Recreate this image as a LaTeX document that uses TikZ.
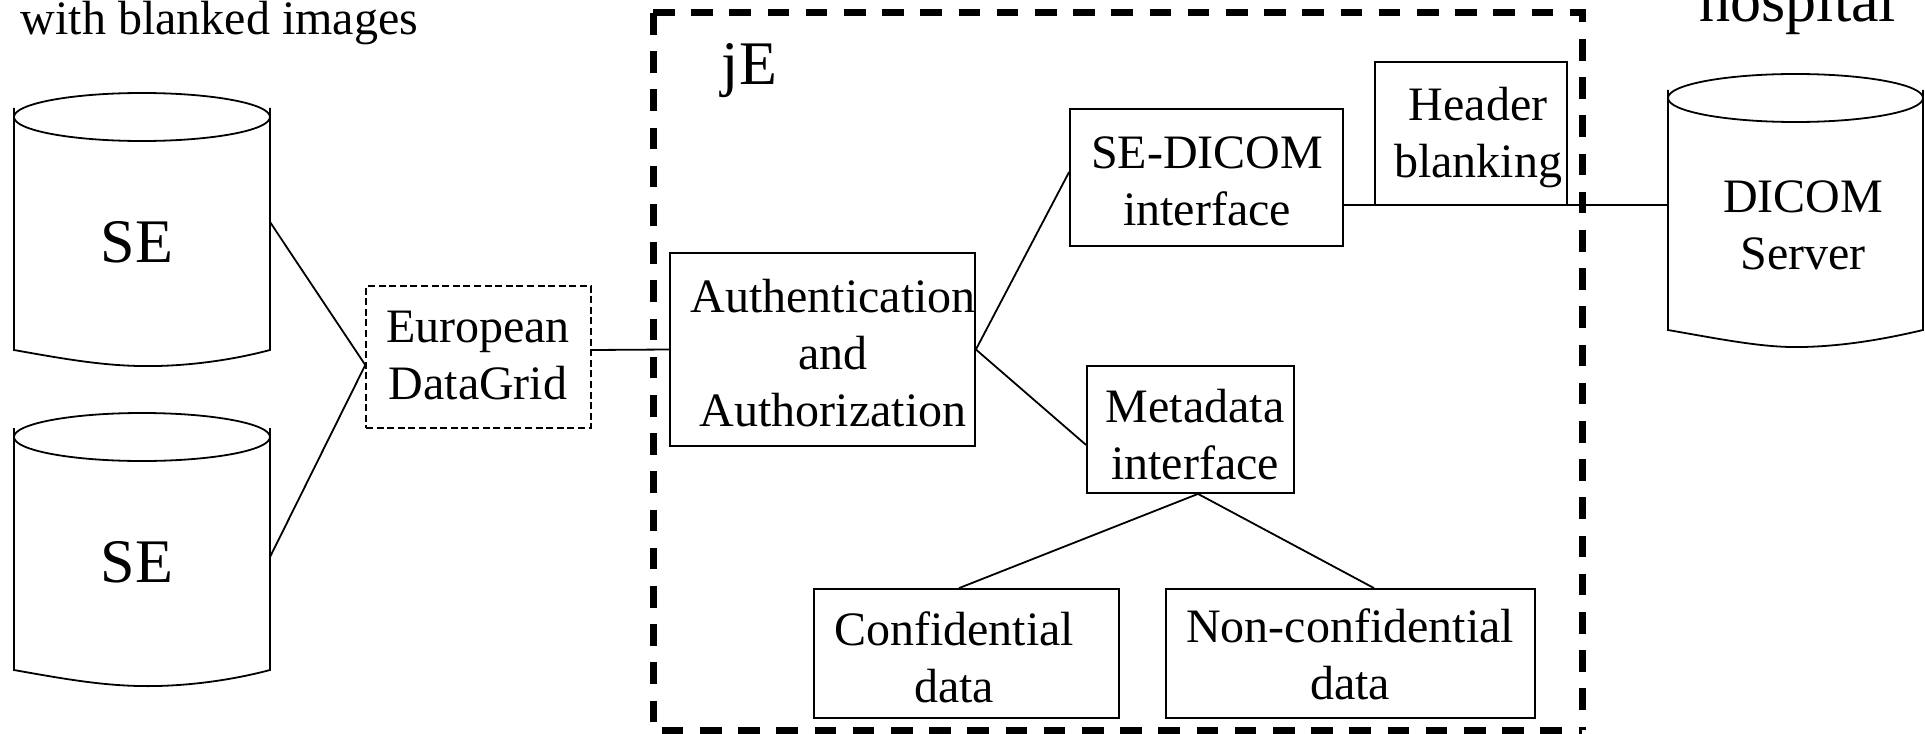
\documentclass[tikz,border=0pt]{standalone}
\usepackage{fontspec}
\setmainfont{Liberation Serif}
% centred lines whose reference point is the baseline of the first line
\newcommand{\lnstack}[1]{\vtop{\halign{\hfil##\hfil\cr#1\crcr}}}
\begin{document}
\begin{tikzpicture}[x=0.5pt,y=-0.5pt,
  line width=0.9pt,
  body/.style={inner sep=0pt,font=\fontsize{24}{28.5}\selectfont},
  big/.style={inner sep=0pt,font=\fontsize{31}{36}\selectfont},
  box/.style={draw,inner sep=0pt},
  gridbox/.style={box,dash pattern=on 3.5pt off 1.8pt,line width=0.7pt},
  jeframe/.style={line width=3.5pt,dash pattern=on 10.8pt off 8.3pt},
  link/.style={line width=0.9pt}]
\useasboundingbox (0,0) rectangle (1925,733);
\clip (0,0) rectangle (1925,733);

% ---- storage elements ----
\draw (142,117) ellipse [x radius=64pt,y radius=12pt];
\draw (14,108) -- (14,350) .. controls (70,360) and (110,367) .. (157,366)
      .. controls (200,365) and (240,358) .. (270,350) -- (270,108);
\node[big,anchor=base] (se1) at (137,262) {SE};
\coordinate (se1port) at (270,222);

\draw (142,437) ellipse [x radius=64pt,y radius=12pt];
\draw (14,428) -- (14,670) .. controls (70,680) and (110,687) .. (157,686)
      .. controls (200,685) and (240,678) .. (270,670) -- (270,428);
\node[big,anchor=base] (se2) at (137,582) {SE};
\coordinate (se2port) at (270,557);

\node[body,anchor=base west] (blanked) at (20,35) {with blanked images};

% ---- hospital DICOM server ----
\draw (1795.5,98) ellipse [x radius=63.75pt,y radius=12pt];
\draw (1668,90) -- (1668,330) .. controls (1725,340) and (1765,348) .. (1803,347)
      .. controls (1845,346) and (1885,339) .. (1923,330) -- (1923,90);
\node[body,anchor=base] (dicom) at (1803,212) {\lnstack{DICOM\cr Server}};
\node[big,anchor=base] (hospital) at (1798,22) {hospital};
\coordinate (dicport) at (1668,205);

% ---- grid ----
\node[gridbox,minimum width=112.5pt,minimum height=71pt] (edg) at (478.5,357) {};
\node[body,anchor=base] (edgT) at (478,342) {\lnstack{European\cr DataGrid}};

% ---- jE domain ----
\coordinate (jeTL) at (653,13);
\coordinate (jeTR) at (1582,13);
\coordinate (jeBR) at (1582,730);
\coordinate (jeBL) at (653,730);
\draw[jeframe] (jeTL) -- (jeTR) -- (jeBR);
\draw[jeframe] (jeTL) -- (jeBL) -- (jeBR);
\node[big,anchor=base west] (je) at (721,85) {jE};

\node[box,minimum width=152.5pt,minimum height=96.5pt] (auth) at (822.5,349.5) {};
\node[body,anchor=base] (authT) at (833,312) {\lnstack{Authentication\cr and\cr Authorization}};

\node[box,minimum width=136.5pt,minimum height=68.5pt] (sedicom) at (1206.5,177.5) {};
\node[body,anchor=base] (sedicomT) at (1207,168) {\lnstack{SE-DICOM\cr interface}};

\node[box,minimum width=96pt,minimum height=71.5pt] (header) at (1471,133.5) {};
\node[body,anchor=base] (headerT) at (1478,120) {\lnstack{Header\cr blanking}};

\node[box,minimum width=103.5pt,minimum height=63.5pt] (meta) at (1190.5,429.5) {};
\node[body,anchor=base] (metaT) at (1195,422) {\lnstack{Metadata\cr interface}};

\node[box,minimum width=152.5pt,minimum height=64.5pt] (conf) at (966.5,653.5) {};
\node[body,anchor=base] (confT) at (954,645) {\lnstack{Confidential\cr data}};

\node[box,minimum width=184.5pt,minimum height=64.5pt] (nonconf) at (1350.5,653.5) {};
\node[body,anchor=base] (nonconfT) at (1350,642) {\lnstack{Non-confidential\cr data}};

% ---- connectors ----
\draw[link] (se1port) -- ([yshift=-4pt]edg.west) -- (se2port);
\draw[link] ([yshift=3.5pt]edg.east) -- (auth.west);
\draw[link] ([yshift=2.75pt]sedicom.west) -- (auth.east) -- ([yshift=-7.75pt]meta.west);
\draw[link] ([yshift=-13.75pt]sedicom.east) -- (dicport);
\draw[link] ([xshift=-3.75pt]conf.north) -- ([xshift=3.75pt]meta.south) -- ([xshift=11.75pt]nonconf.north);
\end{tikzpicture}
\end{document}
